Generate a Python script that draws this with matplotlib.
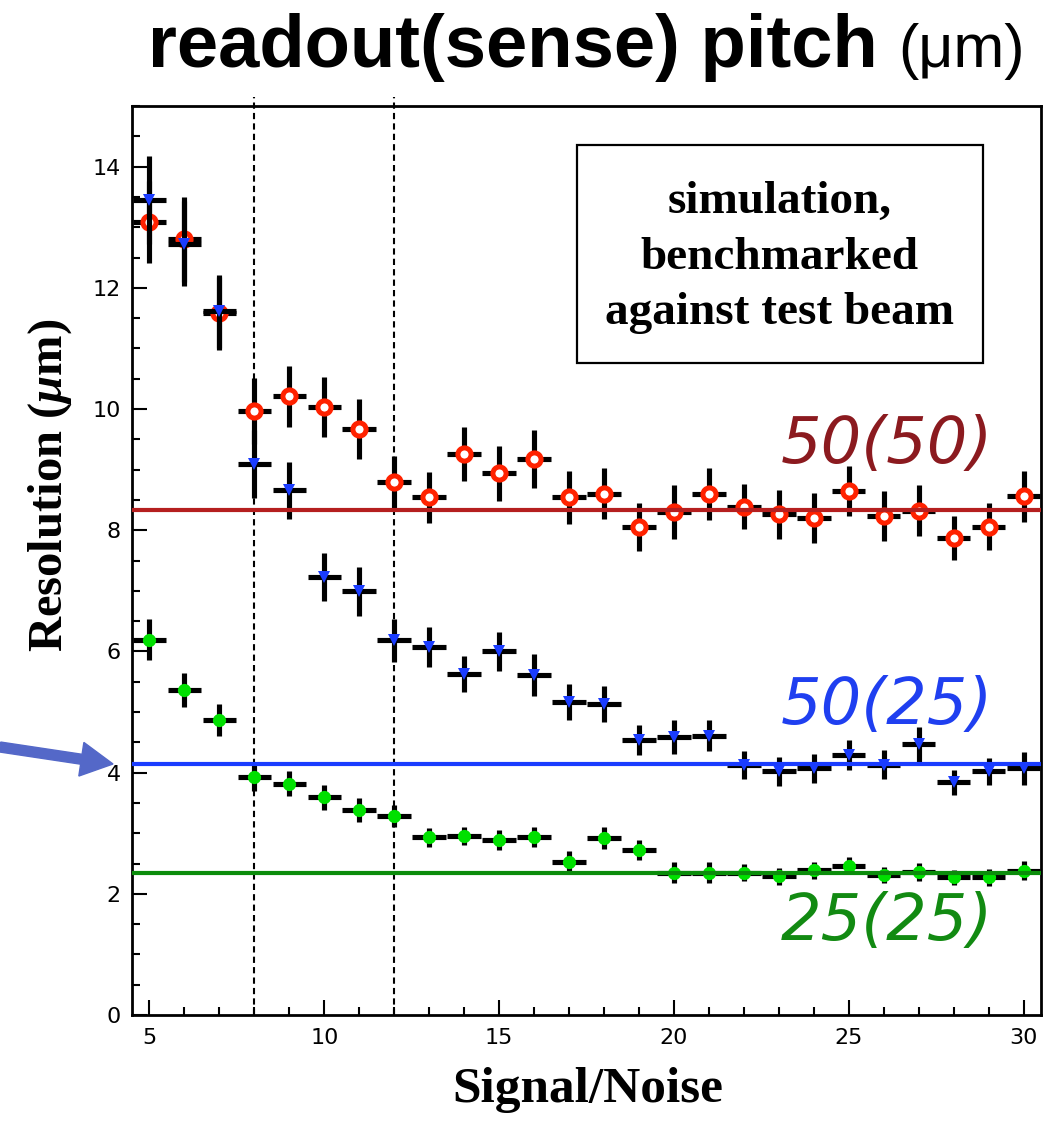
import matplotlib
matplotlib.use("Agg")
import matplotlib.pyplot as plt
from matplotlib.patches import Rectangle, FancyArrow
from matplotlib.ticker import MultipleLocator

# signal/noise bins
signal_noise = list(range(5, 31))

# 50 um readout (50 um sense) pitch
res_50_50 = [13.09, 12.80, 11.58, 9.97, 10.21, 10.03, 9.67, 8.80, 8.54, 9.26,
             8.94, 9.17, 8.54, 8.60, 8.05, 8.30, 8.60, 8.39, 8.26, 8.20,
             8.65, 8.23, 8.32, 7.87, 8.06, 8.56]
err_50_50 = [0.68, 0.70, 0.60, 0.54, 0.50, 0.50, 0.50, 0.43, 0.42, 0.45,
             0.45, 0.48, 0.43, 0.42, 0.40, 0.44, 0.43, 0.37, 0.41, 0.41,
             0.41, 0.41, 0.42, 0.36, 0.39, 0.42]

# 50 um readout (25 um sense) pitch
res_50_25 = [13.45, 12.73, 11.61, 9.09, 8.66, 7.23, 6.99, 6.18, 6.08, 5.63,
             6.00, 5.61, 5.16, 5.13, 4.54, 4.58, 4.61, 4.13, 4.02, 4.07,
             4.29, 4.13, 4.47, 3.84, 4.02, 4.07]
err_50_25 = [0.72, 0.70, 0.60, 0.56, 0.47, 0.40, 0.40, 0.35, 0.33, 0.30,
             0.32, 0.34, 0.30, 0.30, 0.25, 0.28, 0.26, 0.23, 0.24, 0.24,
             0.25, 0.24, 0.29, 0.21, 0.22, 0.27]

# 25 um readout (25 um sense) pitch
res_25_25 = [6.19, 5.36, 4.87, 3.93, 3.82, 3.59, 3.38, 3.28, 2.93, 2.96,
             2.89, 2.94, 2.53, 2.92, 2.72, 2.35, 2.35, 2.35, 2.29, 2.39,
             2.46, 2.31, 2.36, 2.27, 2.27, 2.38]
err_25_25 = [0.34, 0.28, 0.26, 0.23, 0.20, 0.20, 0.20, 0.18, 0.16, 0.15,
             0.16, 0.17, 0.17, 0.18, 0.16, 0.17, 0.17, 0.14, 0.14, 0.14,
             0.14, 0.14, 0.15, 0.13, 0.14, 0.16]

# plateau levels
level_50_50 = 8.34
level_50_25 = 4.15
level_25_25 = 2.35

cut_lines = [8, 12]
labels = ["50(50)", "50(25)", "25(25)"]
label_pos = [(26.1, 9.4), (26.1, 5.1), (26.1, 1.53)]

plt.rcParams["mathtext.fontset"] = "custom"
plt.rcParams["mathtext.rm"] = "Liberation Serif:bold"
plt.rcParams["mathtext.it"] = "Liberation Serif:italic:bold"

fig = plt.figure(figsize=(10.56, 11.21), dpi=100)
ax = fig.add_axes([132 / 1056, 106 / 1121, 909 / 1056, 909 / 1121])

series = [
    (res_50_50, err_50_50, dict(marker="o", ms=9.5, mfc="white", mec="#ff2200", mew=3.6)),
    (res_50_25, err_50_25, dict(marker="v", ms=8.5, mfc="#1a3cff", mec="#1a3cff", mew=0)),
    (res_25_25, err_25_25, dict(marker="o", ms=9.5, mfc="#00e000", mec="#00e000", mew=0)),
]
z = 3
for res, err, style in series:
    ax.errorbar(signal_noise, res, xerr=0.48, yerr=err, fmt="none",
                ecolor="black", elinewidth=3.7, capsize=0, zorder=z)
    ax.plot(signal_noise, res, ls="none", zorder=z + 0.5, **style)
    z += 1

for level, color in [(level_50_50, "#b51f1f"), (level_50_25, "#1a3cff"),
                     (level_25_25, "#0b8c0b")]:
    ax.axhline(level, color=color, lw=3, zorder=10)

for xc in cut_lines:
    ax.vlines(xc, 0, 15.15, colors="black", lw=1.5, linestyles=(0, (3, 2)),
              clip_on=False, zorder=2)

label_colors = ["#8b1a1f", "#1f3ff0", "#128a12"]
for text, (lx, ly), color in zip(labels, label_pos, label_colors):
    ax.text(lx, ly, text, color=color, fontsize=46, style="oblique",
            family="DejaVu Sans", ha="center", va="center", zorder=11)

# annotation box
ax.add_patch(Rectangle((0.4895, 0.717), 0.4465, 0.240, transform=ax.transAxes,
                       fill=False, lw=1.6, ec="black", zorder=12))
ax.text(0.7125, 0.833, "simulation,\nbenchmarked\nagainst test beam",
        transform=ax.transAxes, ha="center", va="center", fontsize=34,
        family="Liberation Serif", weight="bold", linespacing=1.42, zorder=12)

ax.set_xlim(4.5, 30.5)
ax.set_ylim(0, 15)
ax.xaxis.set_major_locator(MultipleLocator(5))
ax.xaxis.set_minor_locator(MultipleLocator(1))
ax.yaxis.set_major_locator(MultipleLocator(2))
ax.yaxis.set_minor_locator(MultipleLocator(0.5))
ax.tick_params(which="both", direction="in", width=1.5, labelsize=16)
ax.tick_params(which="major", length=11)
ax.tick_params(which="minor", length=6)
ax.tick_params(axis="x", pad=9)
ax.tick_params(axis="y", pad=8)
for spine in ax.spines.values():
    spine.set_linewidth(2)

fig.text(50 / 1056, 1 - 485 / 1121, r"Resolution ($\mu$m)", rotation=90,
         ha="center", va="center", fontsize=35, family="Liberation Serif",
         weight="bold")
fig.text(588 / 1056, 1 - 1090 / 1121, "Signal/Noise", ha="center", va="center",
         fontsize=37, family="Liberation Serif", weight="bold")

fig.text(148 / 1056, 1 - 67 / 1121, "readout(sense) pitch", ha="left",
         va="baseline", fontsize=53.5, family="Liberation Sans", weight="bold")
fig.text(1025 / 1056, 1 - 67 / 1121, "(μm)", ha="right", va="baseline",
         fontsize=44, family="Liberation Sans")

arrow = FancyArrow(0.0, 3.74, 1.13, -0.17, width=0.10, head_width=0.34,
                   head_length=0.32, length_includes_head=True,
                   color="#5468c8", transform=fig.dpi_scale_trans)
fig.add_artist(arrow)

fig.savefig("out.png", dpi=100)
